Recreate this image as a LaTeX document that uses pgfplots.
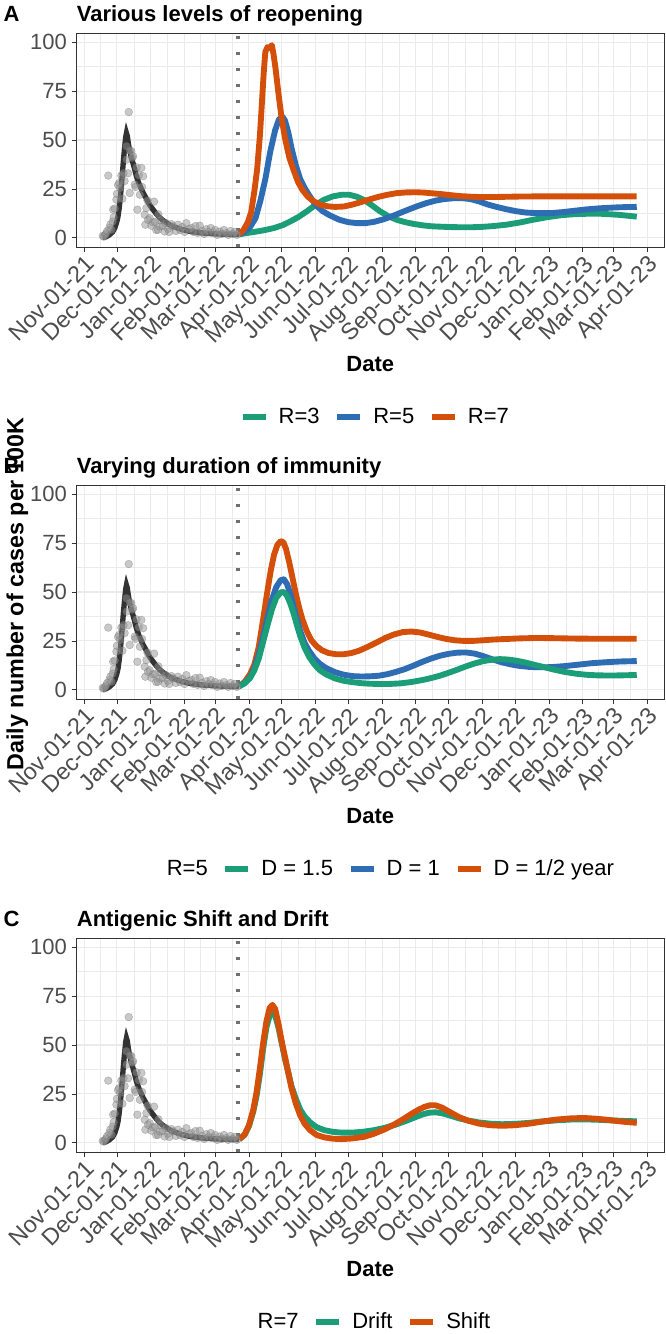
\documentclass[border=0pt]{standalone}
\usepackage{fontspec}
\setmainfont{Liberation Sans}
\usepackage{pgfplots}
\usepackage{pgfplotstable}
\pgfplotsset{compat=1.18}

\definecolor{rgreen}{HTML}{1B9E77}
\definecolor{rblue}{HTML}{2E6DB4}
\definecolor{rorange}{HTML}{D4500A}
\definecolor{fitgrey}{HTML}{333333}
\definecolor{gridgrey}{HTML}{EBEBEB}
\definecolor{txtgrey}{HTML}{4D4D4D}
\definecolor{framegrey}{HTML}{333333}
\definecolor{vgrey}{HTML}{707070}

\newcommand{\ytickfont}{\fontsize{16.5}{19}\selectfont}
\newcommand{\xtickfont}{\fontsize{17.5}{20}\selectfont}
\newcommand{\labfont}{\fontsize{16.5}{19}\selectfont\bfseries}
\newcommand{\ylabfont}{\fontsize{17.5}{20}\selectfont\bfseries}
\newcommand{\legfont}{\fontsize{16.5}{19}\selectfont}

% observed daily cases (day 0 = Nov-01-21)
\pgfplotstableread{
day val
17 1.0
18 0.6
19 1.4
20 2.2
21 3.4
22 31.8
23 5.0
24 6.8
25 4.2
26 8.3
26.5 14.4
27 10.5
28 15
29.5 19.5
30 22.5
31 27
32 28
33 25.5
34 31.8
35 20
36 33
37 29
38.7 46.8
39 40
40.2 33
40.8 64.3
41.7 22.9
42 44.5
43.2 44.3
44 41
44.8 41.7
46.3 27.2
47 26
48 36
48.7 14.4
50 32
51 22
52.4 35.7
53 26
54 31.5
55.5 11.8
56 6.7
57 15.2
58 19
58.5 9.2
60 10
61.6 6.2
63 7.9
64 18.5
65 8
66 4
67.7 4.1
68 12
69.2 5.8
70 9
72 6
73.8 3.2
75 7.5
76.8 4.6
78 3
80 7
81.4 5.8
84 3.5
86 6.7
88 4
90 5.5
92 3
93.6 7.5
96 4.5
98.2 5
100 3
102 6
104 2.5
105.9 6.2
108 3.5
110 2
112 4.4
114 3
116 5
118.1 2.7
120 4
122 1.5
124.2 3.2
126 2
128 4
130.3 2.4
132 1.5
134 3.5
136.4 2
138 3
140 1.5
}\obs

% fitted curve
\pgfplotstableread{
day val
17 0.3
20 0.5
23 1.5
26 3
28 5
30 8.5
31 11
32 15
33 20
34 26
35 33
36 40
37 46
38 51.5
38.7 53.5
39.5 52
40.5 48
41.7 44.5
43 41.5
44.8 38
46 35.5
47.8 31.5
50 28
52 25.5
54 23
57 20
60 16.8
63 14.5
66 12.3
69 10.4
72 9
75 7.8
78 6.7
82 5.7
86 4.9
90 4.2
95 3.5
100 3.0
106 2.6
112 2.3
120 2.0
130 1.8
142 1.7
}\fit

\pgfplotsset{
  panel/.style={
    scale only axis, width=440.55pt, height=160.5pt,
    anchor=north west,
    xmin=-7, xmax=531.5, ymin=-4.7, ymax=104.7,
    xtick={0,30,61,92,120,151,181,212,242,273,304,334,365,395,426,457,485,516},
    xticklabels={Nov-01-21,Dec-01-21,Jan-01-22,Feb-01-22,Mar-01-22,Apr-01-22,May-01-22,Jun-01-22,Jul-01-22,Aug-01-22,Sep-01-22,Oct-01-22,Nov-01-22,Dec-01-22,Jan-01-23,Feb-01-23,Mar-01-23,Apr-01-23},
    minor xtick={15,45.5,76.5,106,135.5,166,196.5,227,257.5,288.5,319,349.5,380,410.5,441.5,471,500.5},
    ytick={0,25,50,75,100},
    minor ytick={12.5,37.5,62.5,87.5},
    grid=both,
    major grid style={gridgrey, line width=0.8pt},
    minor grid style={gridgrey, line width=0.45pt},
    axis line style={framegrey, line width=0.6pt},
    tick style={framegrey, line width=0.6pt},
    tick align=outside, major tick length=3.75pt, minor tick length=0pt,
    xtick pos=bottom, ytick pos=left,
    ticklabel style={text=txtgrey},
    yticklabel style={font=\ytickfont},
    xticklabel style={font=\xtickfont, rotate=45, anchor=north east, inner sep=1pt},
    /pgf/number format/assume math mode=true,
    xlabel={Date},
    xlabel style={font=\labfont, at={(axis description cs:0.5,0)}, anchor=base, yshift=-93.5pt, inner sep=0pt},
    title style={font=\labfont, at={(axis description cs:0,1)}, anchor=base west, yshift=2.5pt, inner sep=0pt},
    legend style={draw=none, fill=none, legend columns=-1, anchor=center, font=\legfont,
      /tikz/every odd column/.append style={column sep=5.5pt},
      /tikz/every even column/.append style={column sep=9pt}},
    legend image code/.code={\draw[line width=4.5pt] (0pt,0pt) -- (17.25pt,0pt);},
  },
  model/.style={line width=4.4pt, line join=round},
  vline/.style={vgrey, line width=2.5pt, dash pattern=on 2.5pt off 9.5pt, forget plot},
  obsstyle/.style={only marks, mark=*, mark size=2.9pt, mark options={fill=black!42, draw=black!55, line width=0.3pt, opacity=0.5}},
}

\begin{document}
\begin{tikzpicture}
\useasboundingbox (0,0) rectangle (499.5pt,-1000.5pt);
\fill[white] (0,0) rectangle (499.5pt,-1000.5pt);

% ---------------- A ----------------
\begin{axis}[panel, at={(57.45pt,-24.75pt)}, title={Various levels of reopening},
  legend style={at={(0.509,-0.793)}}]
\addplot[vline] coordinates {(141,-4.7) (141,104.7)};
\addplot[obsstyle, forget plot] table {\obs};
\addplot[fitgrey, line width=4pt, forget plot] table {\fit};
\addplot[rgreen, model] coordinates {
(142,1.8) (150,2.5) (158,3.2) (166,4) (174,5) (182,6.5) (189,8.4) (196,10.5) (204,13.5) (212,16.8) (220,19.5) (228,21.2) (236,22) (243,22) (250,21) (257,19.2) (264,16.5) (271,13.6) (279,11) (287,9.1) (295,7.9) (302,7.1) (310,6.4) (318,5.9) (326,5.7) (335,5.5) (345,5.4) (355,5.4) (365,5.6) (375,6) (387,6.7) (400,7.9) (412,9.3) (425,10.6) (438,11.6) (450,12.1) (462,12.3) (473,12.3) (483,12) (491,11.7) (500,11.2) (506.5,10.8)};
\addlegendentry{R=3}
\addplot[rblue, model] coordinates {
(142,1.8) (147,3) (152,5.5) (157,10) (161.5,19) (166,30) (170.5,44) (175,55) (178.5,60.5) (181.5,62) (184,60) (187,54) (190,46) (194,37) (198,30) (202,25.5) (207,21) (212,17) (218,13.8) (225,11.5) (234,9.2) (242,8) (250,7.5) (258,7.5) (266,8.2) (274,9.4) (282,11) (290,12.8) (298,14.6) (306,16.3) (314,17.8) (322,19) (330,19.8) (338,20.2) (346,20.3) (354,19.8) (362,18.6) (370,17) (378,15.8) (387,14.6) (396,13.6) (405,12.9) (415,12.6) (427,12.6) (438,13.1) (449,13.8) (460,14.5) (473,15.1) (486,15.5) (496,15.7) (506.5,15.8)};
\addlegendentry{R=5}
\addplot[rorange, model] coordinates {
(142,1.8) (146,4) (150,8) (153,13) (156,24) (158.5,35) (161,52) (163,70) (164.5,84) (166,95) (168,97.5) (170,97) (172,98.5) (173.5,94) (175.5,86) (178,74) (181,61) (184,51) (188,41) (192,34.5) (196,28.5) (200,24.5) (205,21) (210,18.8) (216,17) (223,16.1) (230,15.8) (238,16) (246,17) (254,18.3) (262,19.7) (270,21) (278,22) (286,22.8) (295,23.2) (304,23.3) (312,23.1) (320,22.7) (328,22.3) (336,21.8) (345,21.3) (355,21) (365,20.8) (380,20.9) (400,21.1) (420,21.2) (450,21.2) (480,21.2) (506.5,21.2)};
\addlegendentry{R=7}
\end{axis}

% ---------------- B ----------------
\begin{axis}[panel, at={(57.45pt,-363.75pt)}, title={Varying duration of immunity},
  legend style={at={(0.528,-0.793)}}]
\addlegendimage{empty legend}
\addlegendentry{R=5}
\addplot[vline] coordinates {(141,-4.7) (141,104.7)};
\addplot[obsstyle, forget plot] table {\obs};
\addplot[fitgrey, line width=4pt, forget plot] table {\fit};
\addplot[rorange, model, forget plot] coordinates {
(142,1.8) (147,4) (152,8) (156,13) (160,22) (164,36) (167.5,49) (171,61) (174,69) (177,74) (180,76) (182.5,75.5) (185,72) (188,65) (191,57) (194,49) (197,42) (200,36) (204,30) (208,25.5) (213,22.3) (218,20.2) (224,18.8) (231,18.2) (238,18.2) (245,18.8) (252,20) (260,22) (268,24.2) (276,26.5) (284,28.3) (292,29.5) (300,29.8) (308,29.3) (316,28.2) (324,27) (332,26) (340,25.3) (348,25) (356,25) (365,25.3) (375,25.7) (387,26) (400,26.3) (415,26.5) (430,26.4) (450,26.2) (470,26.1) (490,26.1) (506.5,26.1)};
\addplot[rblue, model, forget plot] coordinates {
(142,1.8) (147,3.5) (152,6.5) (156,11) (160,18) (164,27) (168,37) (172,46) (176,52.5) (180,56) (183,56.5) (186,54) (189,49) (192,42.5) (195,36) (198,30) (202,24) (206,20) (211,16) (216,13.3) (222,11) (230,9) (238,7.7) (246,7) (254,6.8) (262,6.9) (270,7.2) (278,8) (286,9.2) (294,10.6) (302,12.4) (310,14.3) (318,16) (326,17.4) (334,18.4) (342,19) (350,19.1) (358,18.5) (366,17.2) (374,15.6) (382,14.2) (390,13.1) (398,12.3) (408,11.7) (418,11.5) (428,11.6) (440,12.1) (452,12.8) (465,13.6) (478,14.1) (492,14.5) (506.5,14.7)};
\addplot[rgreen, model, forget plot] coordinates {
(142,1.8) (147,3.3) (152,6) (156,10) (160,16) (164,24.5) (168,33) (172,41) (176,47) (180,49.8) (183,50) (186,48) (189,44) (192,39) (195,33) (198,27.5) (202,21.5) (206,17) (211,13) (216,10) (222,7.8) (230,5.8) (238,4.6) (246,3.9) (254,3.4) (262,3.1) (270,3) (280,3) (290,3.3) (300,4) (310,5) (318,6) (326,7.2) (334,8.7) (342,10.3) (350,12) (358,13.5) (366,14.7) (374,15.4) (381,15.7) (388,15.5) (396,14.9) (404,14) (412,12.9) (420,11.8) (430,10.4) (440,9.2) (450,8.3) (460,7.7) (470,7.4) (482,7.3) (494,7.4) (506.5,7.6)};
\addlegendimage{rgreen}
\addlegendentry{D = 1.5}
\addlegendimage{rblue}
\addlegendentry{D = 1}
\addlegendimage{rorange}
\addlegendentry{D = 1/2 year}
\end{axis}

% ---------------- C ----------------
\begin{axis}[panel, at={(57.45pt,-703.5pt)}, title={Antigenic Shift and Drift},
  legend style={at={(0.50,-0.793)}}]
\addlegendimage{empty legend}
\addlegendentry{R=7}
\addplot[vline] coordinates {(141,-4.7) (141,104.7)};
\addplot[obsstyle, forget plot] table {\obs};
\addplot[fitgrey, line width=4pt, forget plot] table {\fit};
\addplot[rgreen, model] coordinates {
(142,1.8) (147,4) (151,8.5) (155,16) (158,24) (161,35) (164,48) (167,59) (170,65) (172.5,66.5) (175,65) (178,59) (181,51) (184,43) (187,36) (190,29) (194,22.5) (198,17) (202,13.5) (207,10.5) (213,8) (220,6.5) (228,5.6) (236,5.2) (245,5.2) (255,5.6) (265,6.4) (275,7.6) (285,9.2) (295,11.2) (303,13) (310,14.5) (316,15.4) (322,15.6) (328,15.1) (335,14) (343,12.6) (352,11.4) (362,10.4) (372,9.8) (383,9.5) (395,9.7) (408,10.2) (420,10.9) (433,11.5) (446,11.9) (458,12) (470,11.8) (482,11.5) (494,11.2) (506.5,11)};
\addlegendentry{Drift}
\addplot[rorange, model] coordinates {
(142,1.8) (147,4.2) (151,9) (155,17) (158,26) (161,38) (164,51) (167,62) (170,69) (172.5,70.5) (175,68.5) (178,61) (181,52) (184,44) (187,36) (190,28) (194,20) (198,14) (202,9.8) (207,6.5) (213,4) (220,2.8) (228,2.1) (236,1.9) (245,2.2) (256,3) (265,4.5) (275,6.8) (284,9.3) (293,12.3) (300,14.8) (306,16.8) (312,18.4) (317,19.2) (322,19.2) (328,18) (335,15.8) (343,13.3) (352,11.3) (362,9.8) (372,9) (383,8.7) (395,9) (408,9.8) (420,10.9) (433,11.9) (446,12.5) (458,12.7) (470,12.3) (482,11.6) (494,10.8) (506.5,10.2)};
\addlegendentry{Shift}
\end{axis}

% panel tags and shared y label
\node[anchor=base west, inner sep=0pt, font=\labfont] at (2.6pt,-16.3pt) {A};
\node[anchor=base west, inner sep=0pt, font=\labfont] at (2.6pt,-354.8pt) {B};
\node[anchor=base west, inner sep=0pt, font=\labfont] at (2.6pt,-695pt) {C};
\node[rotate=90, anchor=base, inner sep=0pt, font=\ylabfont] at (17.5pt,-445.5pt) {Daily number of cases per 100K};
\end{tikzpicture}
\end{document}
